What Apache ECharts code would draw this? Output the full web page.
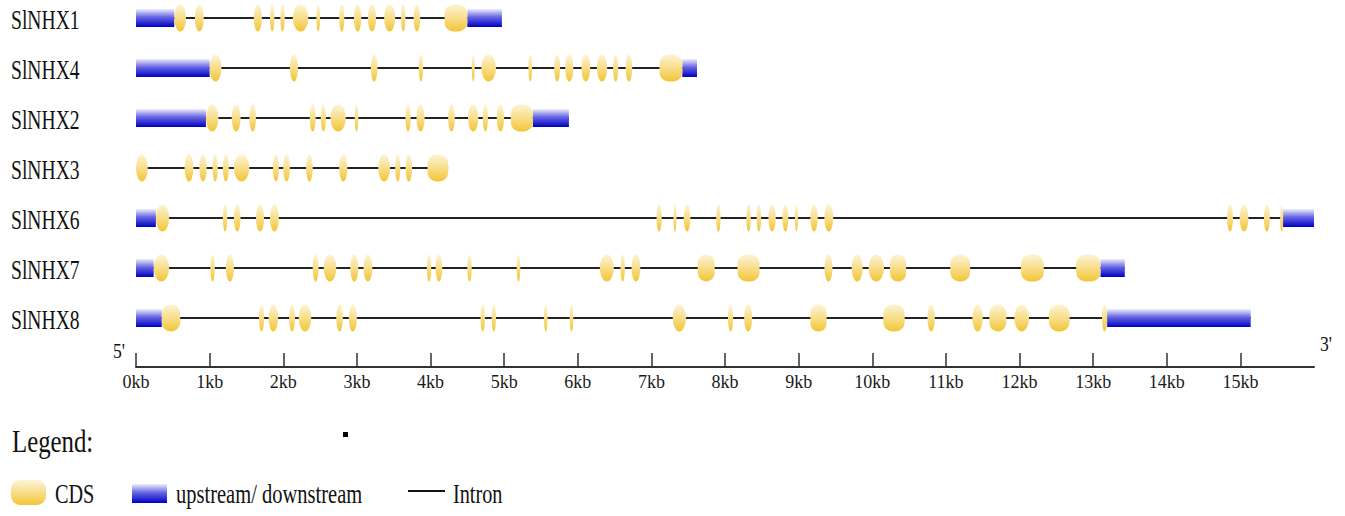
<!DOCTYPE html>
<html>
<head>
<meta charset="utf-8">
<script src="https://cdn.jsdelivr.net/npm/echarts@6/dist/echarts.min.js"></script>
<style>
html, body { margin: 0; padding: 0; background: #fff; }
#geneChart { width: 1345px; height: 516px; }
</style>
</head>
<body>
<div id="geneChart"></div>
<script>
// 基因名，从上到下
const genes = ['SlNHX1', 'SlNHX4', 'SlNHX2', 'SlNHX3', 'SlNHX6', 'SlNHX7', 'SlNHX8'];
// 坐标刻度 (kb)
const kbTicks = [0, 1, 2, 3, 4, 5, 6, 7, 8, 9, 10, 11, 12, 13, 14, 15];

// upstream / downstream 区段 [start, end] (kb)
const nhx1Utr = [[0, 0.52], [4.50, 4.97]];
const nhx4Utr = [[0, 1.00], [7.42, 7.62]];
const nhx2Utr = [[0, 0.95], [5.39, 5.88]];
const nhx3Utr = [];
const nhx6Utr = [[0, 0.27], [15.58, 16.0]];
const nhx7Utr = [[0, 0.24], [13.10, 13.43]];
const nhx8Utr = [[0, 0.35], [13.19, 15.14]];

// CDS 区段 [start, end] (kb)
const nhx1Cds = [[0.52, 0.68], [0.80, 0.92], [1.60, 1.71], [1.82, 1.88], [1.96, 2.02], [2.13, 2.34], [2.45, 2.50],
  [2.76, 2.83], [2.96, 3.06], [3.15, 3.26], [3.37, 3.52], [3.60, 3.66], [3.77, 3.86], [4.19, 4.50]];
const nhx4Cds = [[1.00, 1.16], [2.09, 2.20], [3.19, 3.28], [3.84, 3.90], [4.56, 4.59], [4.69, 4.89], [5.33, 5.38],
  [5.68, 5.76], [5.83, 5.94], [6.05, 6.17], [6.26, 6.40], [6.48, 6.55], [6.65, 6.74], [7.11, 7.42]];
const nhx2Cds = [[0.95, 1.12], [1.30, 1.42], [1.54, 1.63], [2.36, 2.44], [2.51, 2.58], [2.64, 2.85], [2.97, 3.02],
  [3.66, 3.73], [3.81, 3.92], [4.24, 4.33], [4.51, 4.65], [4.71, 4.78], [4.90, 5.00], [5.09, 5.39]];
const nhx3Cds = [[0, 0.16], [0.66, 0.78], [0.86, 0.96], [1.04, 1.11], [1.18, 1.26], [1.33, 1.54], [1.86, 1.94],
  [2.00, 2.09], [2.31, 2.40], [2.76, 2.87], [3.29, 3.45], [3.52, 3.59], [3.66, 3.75], [3.96, 4.24]];
const nhx6Cds = [[0.27, 0.45], [1.18, 1.24], [1.33, 1.42], [1.63, 1.74], [1.82, 1.94], [7.07, 7.14], [7.30, 7.34],
  [7.44, 7.53], [7.88, 7.94], [8.29, 8.35], [8.43, 8.49], [8.59, 8.69], [8.78, 8.86], [8.95, 8.98], [9.16, 9.26],
  [9.35, 9.47], [14.82, 14.90], [14.99, 15.11], [15.32, 15.40], [15.54, 15.58]];
const nhx7Cds = [[0.24, 0.45], [1.01, 1.07], [1.22, 1.33], [2.40, 2.48], [2.55, 2.72], [2.91, 3.02], [3.09, 3.21],
  [3.95, 4.01], [4.07, 4.16], [4.50, 4.56], [5.17, 5.22], [6.30, 6.49], [6.58, 6.64], [6.73, 6.85], [7.63, 7.86],
  [8.17, 8.47], [9.35, 9.46], [9.72, 9.87], [9.95, 10.16], [10.24, 10.46], [11.06, 11.33], [12.02, 12.33], [12.77, 13.10]];
const nhx8Cds = [[0.35, 0.60], [1.67, 1.74], [1.80, 1.93], [2.08, 2.16], [2.21, 2.38], [2.72, 2.81], [2.89, 3.00],
  [4.68, 4.74], [4.83, 4.89], [5.54, 5.59], [5.89, 5.94], [7.29, 7.47], [8.04, 8.11], [8.26, 8.37], [9.16, 9.38],
  [10.15, 10.44], [10.75, 10.85], [11.36, 11.50], [11.59, 11.82], [11.93, 12.13], [12.40, 12.68], [13.12, 13.19]];

const utrList = [nhx1Utr, nhx4Utr, nhx2Utr, nhx3Utr, nhx6Utr, nhx7Utr, nhx8Utr];
const cdsList = [nhx1Cds, nhx4Cds, nhx2Cds, nhx3Cds, nhx6Cds, nhx7Cds, nhx8Cds];

function toRows(list) {
  const rows = [];
  list.forEach((segs, i) => segs.forEach(s => rows.push([s[0], s[1], i])));
  return rows;
}
// 内含子线：每个基因从第一个区段到最后一个区段
const intronRows = genes.map((g, i) => {
  const all = utrList[i].concat(cdsList[i]);
  return [Math.min(...all.map(s => s[0])), Math.max(...all.map(s => s[1])), i];
});

const FONT = '"Liberation Serif", "Times New Roman", serif';
const cdsFill = () => new echarts.graphic.LinearGradient(0, 0, 0, 1, [
  { offset: 0, color: '#fcf4d6' }, { offset: 0.5, color: '#f8de8a' }, { offset: 1, color: '#f2c535' }]);
const utrFill = () => new echarts.graphic.LinearGradient(0, 0, 0, 1, [
  { offset: 0, color: '#eeeefc' }, { offset: 0.45, color: '#6666e4' }, { offset: 1, color: '#0000c2' }]);

function segEnds(api) {
  const p0 = api.coord([api.value(0), api.value(2)]);
  const p1 = api.coord([api.value(1), api.value(2)]);
  return [p0, p1];
}

function renderIntron(params, api) {
  const [p0, p1] = segEnds(api);
  return { type: 'line', shape: { x1: p0[0], y1: p0[1], x2: p1[0], y2: p1[1] },
    style: { stroke: '#222', lineWidth: 2 } };
}

function renderUtr(params, api) {
  const [p0, p1] = segEnds(api);
  const h = 18;
  return { type: 'rect', shape: { x: p0[0], y: p0[1] - h / 2, width: p1[0] - p0[0], height: h },
    style: { fill: utrFill() } };
}

function renderCds(params, api) {
  const [p0, p1] = segEnds(api);
  const w = Math.max(p1[0] - p0[0], 3);
  const h = 27;
  if (w < 16) {
    return { type: 'path',
      shape: { pathData: 'M0,50A50,50 0 1,1 100,50A50,50 0 1,1 0,50Z', x: p0[0], y: p0[1] - h / 2, width: w, height: h, layout: 'cover' },
      style: { fill: cdsFill() } };
  }
  return { type: 'rect', shape: { x: p0[0], y: p0[1] - h / 2, width: w, height: h, r: Math.min(w / 2, 9) },
    style: { fill: cdsFill() } };
}

function renderName(params, api) {
  const y = api.coord([0, api.value(1)])[1];
  return { type: 'text', x: 11, y: y + 1, scaleX: 0.7,
    style: { text: genes[params.dataIndex], fontFamily: FONT, fontSize: 28, fill: '#111', verticalAlign: 'middle' } };
}

function legendText(text, x, y, size, sx) {
  return { type: 'text', x: x, y: y, scaleX: sx,
    style: { text: text, fontFamily: FONT, fontSize: size, fill: '#111', verticalAlign: 'middle' } };
}

const myChart = echarts.init(document.getElementById('geneChart'), null, { renderer: 'svg' });
myChart.setOption({
  animation: false,
  backgroundColor: '#fff',
  grid: { left: 136, right: 31, top: 18, bottom: 198 },
  xAxis: {
    type: 'value', min: 0, max: 16, position: 'bottom', offset: 49,
    splitLine: { show: false },
    axisLine: { show: true, lineStyle: { color: '#333', width: 2 } },
    axisTick: { show: true, inside: true, length: 14, customValues: kbTicks, lineStyle: { color: '#333', width: 1.5 } },
    axisLabel: { customValues: kbTicks, formatter: '{value}kb', fontFamily: FONT, fontSize: 18, color: '#1a1a1a', margin: 6 }
  },
  yAxis: { type: 'category', data: genes, inverse: true, boundaryGap: false, show: false },
  series: [
    { type: 'custom', name: 'Intron', z: 1, renderItem: renderIntron, encode: { x: [0, 1], y: 2 }, data: intronRows },
    { type: 'custom', name: 'upstream/ downstream', z: 2, renderItem: renderUtr, encode: { x: [0, 1], y: 2 }, data: toRows(utrList) },
    { type: 'custom', name: 'CDS', z: 3, renderItem: renderCds, encode: { x: [0, 1], y: 2 }, data: toRows(cdsList) },
    { type: 'custom', name: 'gene', z: 4, renderItem: renderName, encode: { x: 0, y: 1 }, data: genes.map((g, i) => [0, i]) }
  ],
  graphic: [
    legendText("5'", 113, 350, 22, 0.8),
    legendText("3'", 1320, 343, 22, 0.8),
    legendText('Legend:', 12, 442, 31, 0.8),
    { type: 'rect', shape: { x: 343, y: 432, width: 5, height: 5 }, style: { fill: '#000' } },
    { type: 'rect', shape: { x: 11, y: 480, width: 35, height: 25, r: 9 }, style: { fill: cdsFill() } },
    legendText('CDS', 55, 494, 27, 0.75),
    { type: 'rect', shape: { x: 132, y: 484, width: 35, height: 19 }, style: { fill: utrFill() } },
    legendText('upstream/ downstream', 176, 494, 27, 0.76),
    { type: 'line', shape: { x1: 408, y1: 491, x2: 445, y2: 491 }, style: { stroke: '#111', lineWidth: 2 } },
    legendText('Intron', 453, 494, 27, 0.75)
  ]
});
</script>
</body>
</html>
